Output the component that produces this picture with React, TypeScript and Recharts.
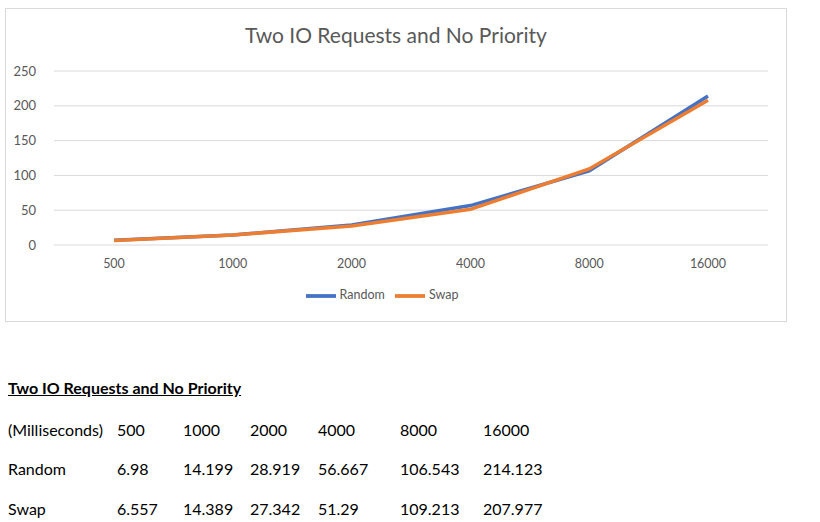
import { LineChart, Line, XAxis, YAxis, CartesianGrid, Legend } from 'recharts'

const sizes = ['500', '1000', '2000', '4000', '8000', '16000']
const random = [6.98, 14.199, 28.919, 56.667, 106.543, 214.123]
const swap = [6.557, 14.389, 27.342, 51.29, 109.213, 207.977]
const yTicks = [0, 50, 100, 150, 200, 250]

const title = 'Two IO Requests and No Priority'
const font = 'Lato, "Open Sans", sans-serif'
const grey = '#595959'

const data = sizes.map((s, i) => ({ size: s, Random: random[i], Swap: swap[i] }))

const tableRows = [
  { label: '(Milliseconds)', values: sizes },
  { label: 'Random', values: random.map(String) },
  { label: 'Swap', values: swap.map(String) },
]
const colX = [117, 183, 250, 318, 400, 483]
const rowY = [420, 459, 499]

export default function App() {
  return (
    <div style={{ position: 'absolute', left: 0, top: 0, width: 820, height: 522, fontFamily: font }}>
      <div
        style={{
          position: 'absolute',
          left: 5,
          top: 8,
          width: 780,
          height: 312,
          border: '1px solid #d9d9d9',
          background: '#fff',
        }}
      >
        <div
          style={{
            position: 'absolute',
            top: 13,
            width: '100%',
            textAlign: 'center',
            fontSize: 21,
            color: grey,
          }}
        >
          {title}
        </div>
        <LineChart width={780} height={312} data={data} margin={{ top: 62, right: 18, bottom: 46, left: 0 }}>
          <CartesianGrid vertical={false} stroke="#d9d9d9" />
          <XAxis
            dataKey="size"
            axisLine={false}
            tickLine={false}
            height={30}
            padding={{ left: 60, right: 60 }}
            tick={{ fill: grey, fontSize: 12.5 }}
            tickMargin={8}
          />
          <YAxis
            domain={[0, 250]}
            ticks={yTicks}
            axisLine={false}
            tickLine={false}
            width={48}
            tick={{ fill: grey, fontSize: 13 }}
            tickMargin={12}
          />
          <Legend
            verticalAlign="middle"
            align="center"
            iconType="plainline"
            iconSize={30}
            wrapperStyle={{ top: 272, fontSize: 12.5 }}
            formatter={(v) => <span style={{ color: grey }}>{v}</span>}
          />
          <Line dataKey="Random" stroke="#4472C4" strokeWidth={3.5} dot={false} isAnimationActive={false} />
          <Line dataKey="Swap" stroke="#ED7D31" strokeWidth={3.5} dot={false} isAnimationActive={false} />
        </LineChart>
      </div>
      <div
        style={{
          position: 'absolute',
          left: 8,
          top: 378,
          fontSize: 16,
          fontWeight: 'bold',
          textDecoration: 'underline',
          color: '#000',
        }}
      >
        {title}
      </div>
      {tableRows.map((row, r) => (
        <div key={row.label}>
          <div style={{ position: 'absolute', left: 8, top: rowY[r], fontSize: 16, color: '#000' }}>{row.label}</div>
          {row.values.map((v, c) => (
            <div key={c} style={{ position: 'absolute', left: colX[c], top: rowY[r], fontSize: 16, color: '#000' }}>
              {v}
            </div>
          ))}
        </div>
      ))}
    </div>
  )
}
